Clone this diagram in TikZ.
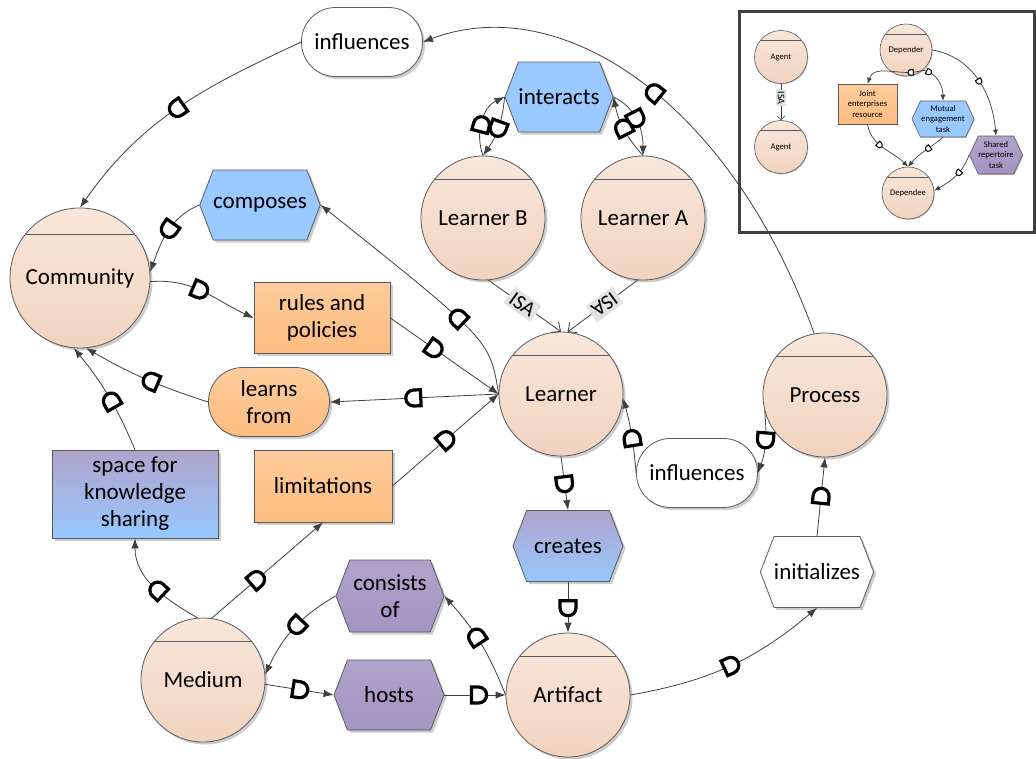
\documentclass[tikz,border=0pt]{standalone}
\usepackage{fontspec}
\setmainfont{Carlito}
\usetikzlibrary{arrows.meta,shapes.symbols,shadows,calc,decorations.markings}
\definecolor{edgec}{HTML}{404040}
\definecolor{bordc}{HTML}{5A5A5A}
\definecolor{legc}{HTML}{404040}
\definecolor{peachT}{HTML}{F9E7DB}
\definecolor{peachB}{HTML}{F1D3BF}
\definecolor{orangeT}{HTML}{FECC9C}
\definecolor{orangeB}{HTML}{FBBC80}
\definecolor{blueF}{HTML}{99C9FF}
\definecolor{purpT}{HTML}{B0A3CB}
\definecolor{purpB}{HTML}{A394C2}
\definecolor{gradT}{HTML}{B0A4CC}
\definecolor{gradB}{HTML}{96C8FF}
\definecolor{isagray}{HTML}{E2E2E2}
\newcommand\dgmfont{\fontsize{23}{27}\selectfont}
\newcommand\lgdfont{\fontsize{8.6}{10.6}\selectfont}
\tikzset{
  nbase/.style={draw=bordc, line width=0.8pt, align=center, inner sep=0pt, font=\dgmfont, text=black},
  bigshad/.style={drop shadow={shadow xshift=2.5pt, shadow yshift=-2.5pt, opacity=0.2, fill=black}},
  smallshad/.style={drop shadow={shadow xshift=1pt, shadow yshift=-1pt, opacity=0.2, fill=black}},
  chord/.style={path picture={\draw[draw=bordc, line width=#1]
      ($(path picture bounding box.north west)!0.19!(path picture bounding box.south west)$) --
      ($(path picture bounding box.north east)!0.19!(path picture bounding box.south east)$);}},
  actor/.style={nbase, bigshad, circle, minimum size=124pt, top color=peachT, bottom color=peachB, chord=0.8pt},
  lactor/.style={nbase, smallshad, circle, minimum size=53pt, top color=peachT, bottom color=peachB, chord=0.6pt, line width=0.6pt, font=\lgdfont},
  orect/.style={nbase, bigshad, rectangle, top color=orangeT, bottom color=orangeB},
  stad/.style={nbase, bigshad, rectangle, rounded corners=34pt, minimum width=121pt, minimum height=69pt},
  hexa/.style={nbase, bigshad, signal, signal to=east and west, signal pointer angle=138, minimum width=110pt, minimum height=71pt},
  lhexa/.style={nbase, smallshad, signal, signal to=east and west, signal pointer angle=130, line width=0.6pt, font=\lgdfont},
  lrect/.style={nbase, smallshad, rectangle, line width=0.6pt, font=\lgdfont, top color=orangeT, bottom color=orangeB},
  edge/.style={draw=edgec, line width=0.8pt, -{Latex[length=10pt,width=7.5pt]}},
  sedge/.style={draw=edgec, line width=0.7pt, -{Latex[length=6pt,width=5pt]}},
  dep/.style={postaction={decorate, decoration={markings, mark=at position #1 with {
      \filldraw[draw=black, fill=white, line width=3.2pt] (-6.5pt,-8pt) -- (0.5pt,-8pt)
        arc[start angle=-90, end angle=90, radius=8pt] -- (-6.5pt,8pt) -- cycle;}}}},
  sdep/.style={postaction={decorate, decoration={markings, mark=at position #1 with {
      \filldraw[draw=black, fill=white, line width=1pt] (-2.2pt,-2.8pt) -- (0.3pt,-2.8pt)
        arc[start angle=-90, end angle=90, radius=2.8pt] -- (-2.2pt,2.8pt) -- cycle;}}}},
  isa/.style={draw=edgec, line width=0.8pt, -{Straight Barb[length=7pt,width=13pt]}},
  isalbl/.style={fill=isagray, font=\fontsize{21}{22}\selectfont, inner sep=3pt, sloped, allow upside down},
  lisa/.style={draw=edgec, line width=0.6pt, -{Straight Barb[length=4pt,width=8pt]}},
  lisalbl/.style={fill=isagray, font=\fontsize{10}{11}\selectfont, inner sep=1.5pt, sloped, allow upside down},
}
\begin{document}
\begin{tikzpicture}[x=1pt, y=-1pt]
\useasboundingbox (0,0) rectangle (1036,758);
\fill[white] (0,0) rectangle (1036,758);

% legend frame
\draw[line width=3pt, draw=legc] (739.5,11.5) rectangle (1034.5,232.5);

% actors
\node[actor, minimum size=140pt] (comm) at (80,278) {Community};
\node[actor] (lb) at (483,218) {Learner B};
\node[actor] (la) at (643,218) {Learner A};
\node[actor] (lrn) at (561,394) {Learner};
\node[actor] (proc) at (825,395) {Process};
\node[actor] (med) at (203,680) {Medium};
\node[actor] (art) at (568,695) {Artifact};

% goals / resources / tasks
\node[stad, fill=white] (inft) at (362,42) {influences};
\node[stad, fill=white] (infb) at (697,473) {influences};
\node[stad, top color=orangeT, bottom color=orangeB] (lrnf) at (269,402) {learns\\from};
\node[orect, minimum width=136pt, minimum height=71pt] (rules) at (322,318) {rules and\\policies};
\node[orect, minimum width=138pt, minimum height=72pt] (lim) at (323,486) {limitations};
\node[nbase, bigshad, rectangle, top color=gradT, bottom color=gradB, minimum width=166pt, minimum height=88pt] (space) at (135,494) {space for\\knowledge\\sharing};
\node[hexa, fill=blueF, minimum width=108pt, minimum height=70pt] (inter) at (559,97) {interacts};
\node[hexa, fill=blueF, minimum width=115pt, minimum height=70pt] (comp) at (260,205) {composes};
\node[hexa, top color=gradT, bottom color=gradB] (crt) at (568,546) {creates};
\node[hexa, top color=purpT, bottom color=purpB, minimum width=108pt, minimum height=72pt] (cons) at (390,596) {consists\\of};
\node[hexa, top color=purpT, bottom color=purpB, minimum height=70pt] (hosts) at (389,695) {hosts};
\node[hexa, fill=white] (init) at (817,572) {initializes};

% dependencies
\draw[edge, dep=0.54] (proc.100) .. controls (730,100) and (560,-10) .. (inft.east);
\draw[edge, dep=0.5] (inft.west) to[out=205, in=55] (comm.north);
\draw[edge, dep=0.45] (comp.west) to[out=203, in=70] (comm.5);
\draw[edge, dep=0.45] (comm.-3) to[out=5, in=155] (rules.west);
\draw[edge, dep=0.4] (rules.east) -- (lrn.west);
\draw[edge, dep=0.33] (lrn.west) .. controls (490,340) .. (comp.east);
\draw[edge, dep=0.5] (lrn.west) -- (lrnf.east);
\draw[edge, dep=0.45] (lrnf.west) to[out=162, in=-30] (comm.-85);
\draw[edge, dep=0.45] (space.north) to[bend right=8] (comm.-95);
\draw[edge, dep=0.5] (lim.east) -- (lrn.west);
\draw[edge, dep=0.4] (med.82) -- (lim.south);
\draw[edge, dep=0.45] (med.95) to[out=150, in=-90] (space.south);
\draw[edge, dep=0.45] (cons.west) to[out=210, in=65] (med.5);
\draw[edge, dep=0.5] (med.-4) -- (hosts.west);
\draw[edge, dep=0.55] (hosts.east) -- (art.west);
\draw[edge, dep=0.55] (art.west) to[bend right=10] (cons.east);
\draw[edge, dep=0.5] (lrn.south) -- (crt.north);
\draw[edge, dep=0.5] (crt.south) -- (art.north);
\draw[edge, dep=0.5] (art.east) to[out=10, in=220] (init.south);
\draw[edge, dep=0.5] (init.north) -- (proc.south);
\draw[edge, dep=0.45] (proc.195) to[out=-85, in=70] (infb.east);
\draw[edge, dep=0.45] (infb.west) to[out=95, in=-75] (lrn.-4);
\draw[edge, dep=0.45] (lb.north) to[out=110, in=205] (inter.west);
\draw[edge, dep=0.5] (inter.west) to[bend left=15] (lb.north);
\draw[edge, dep=0.45] (inter.east) to[out=-25, in=90] (la.north);
\draw[edge, dep=0.5] (la.north) to[bend left=15] (inter.east);

% ISA links
\draw[isa] (lb.-85) -- node[isalbl, pos=0.47] {ISA} (lrn.north);
\draw[isa] (la.-95) -- node[isalbl, pos=0.47] {ISA} (lrn.84);

% legend
\node[lactor] (ag1) at (781,57) {Agent};
\node[lactor] (ag2) at (781,147) {Agent};
\draw[lisa] (ag1.south) -- node[lisalbl, pos=0.4] {ISA} (ag2.north);
\node[lactor, minimum size=52pt] (dr) at (906,50) {Depender};
\node[lactor, minimum size=52pt] (de) at (908,193) {Dependee};
\node[lrect, minimum width=59pt, minimum height=40pt] (jer) at (867.5,104) {Joint\\enterprises\\resource};
\node[lhexa, fill=blueF, minimum width=62pt, minimum height=36pt] (met) at (943,119) {Mutual\\engagement\\task};
\node[lhexa, top color=purpT, bottom color=purpB, minimum width=52pt, minimum height=38pt] (srt) at (996,155) {Shared\\repertoire\\task};
\draw[sedge, sdep=0.2] (dr.-50) to[out=200, in=70] (jer.north);
\draw[sedge, sdep=0.15] (dr.-50) to[out=-10, in=90] (met.north);
\draw[sedge, sdep=0.5] (dr.east) to[out=-10, in=95] (srt.north);
\draw[sedge, sdep=0.4] (jer.south) to[out=-80, in=135] (de.north);
\draw[sedge, sdep=0.4] (met.south) to[out=220, in=50] (de.north);
\draw[sedge, sdep=0.4] (srt.west) to[out=-110, in=30] (de.5);
\end{tikzpicture}
\end{document}
